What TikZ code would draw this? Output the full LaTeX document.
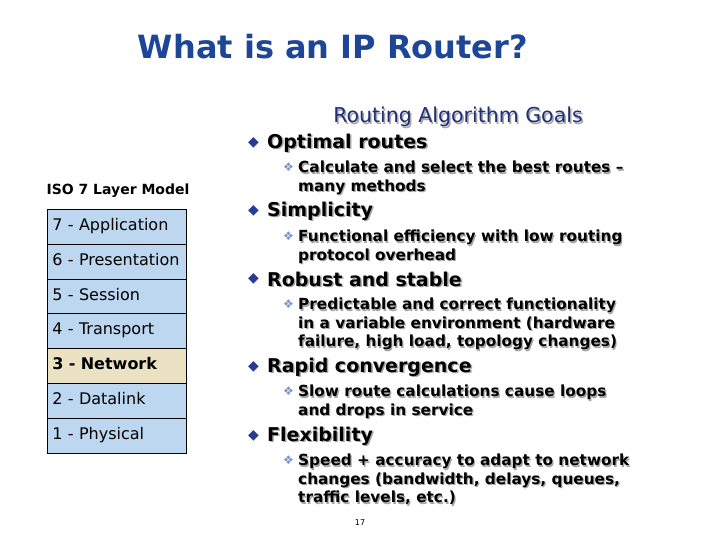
\documentclass[tikz,border=0pt]{standalone}
\usepackage{fontspec}
\setmainfont{DejaVu Sans}
\definecolor{ttl}{RGB}{30,70,150}
\definecolor{bl}{RGB}{40,60,150}
\definecolor{sb}{RGB}{120,150,200}
\definecolor{lay}{RGB}{190,215,240}
\definecolor{layh}{RGB}{235,225,195}
\tikzset{x=1pt,y=-1pt,
 txt/.style={anchor=west,inner sep=0,align=left},
 mainf/.style={font=\fontsize{19}{21}\selectfont\bfseries},
 subf/.style={font=\fontsize{15.3}{18.5}\selectfont\bfseries},
 layer/.style={draw=black,line width=0.8pt,minimum width=139,minimum height=35,anchor=north west,inner xsep=5,text width=129,text height=11.5,text depth=3.5,align=left,font=\fontsize{16}{16}\selectfont},
 shd/.style={text=black!35}}
\newcommand{\mymain}[3]{%
 \node[txt,text=bl,font=\fontsize{14}{14}\selectfont] (#1b) at (248,#2) {◆};
 \node[txt,mainf,shd] (#1s) at (268.5,#2+1.5) {#3};
 \node[txt,mainf] (#1) at (267,#2) {#3};}
\newcommand{\mysub}[3]{%
 \node[txt,text=sb,font=\fontsize{12}{12}\selectfont] (#1b) at (283,#2) {❖};
 \node[txt,subf,shd,anchor=north west] (#1s) at (299.2,#2-6+1.2) {#3};
 \node[txt,subf,anchor=north west] (#1) at (298,#2-6) {#3};}
\begin{document}
\begin{tikzpicture}
\useasboundingbox (0,0) rectangle (720,540);
\fill[white] (0,0) rectangle (720,540);
\node[font=\fontsize{32}{34}\selectfont\bfseries,text=ttl] (title) at (333,47) {What is an IP Router?};
\node[font=\fontsize{20.5}{22}\selectfont,shd] (goalss) at (459.5,118.5) {Routing Algorithm Goals};
\node[font=\fontsize{20.5}{22}\selectfont,text=bl!80!black] (goals) at (458,117) {Routing Algorithm Goals};
\mymain{m1}{143}{Optimal routes}
\mysub{s1}{167}{Calculate and select the best routes –\\many methods}
\mymain{m2}{211}{Simplicity}
\mysub{s2}{236}{Functional efficiency with low routing\\protocol overhead}
\mymain{m3}{279}{Robust and stable}
\mysub{s3}{304}{Predictable and correct functionality\\in a variable environment (hardware\\failure, high load, topology changes)}
\mymain{m4}{367}{Rapid convergence}
\mysub{s4}{391}{Slow route calculations cause loops\\and drops in service}
\mymain{m5}{436}{Flexibility}
\mysub{s5}{460}{Speed + accuracy to adapt to network\\changes (bandwidth, delays, queues,\\traffic levels, etc.)}
\node[font=\fontsize{8}{8}\selectfont] (pg) at (360,523) {17};
\node[font=\fontsize{14}{14}\selectfont\bfseries] (iso) at (118,191) {ISO 7 Layer Model};
\node[layer,fill=lay] (l7) at (47,209) {7 - Application};
\node[layer,fill=lay] (l6) at (47,244) {6 - Presentation};
\node[layer,fill=lay] (l5) at (47,279) {5 - Session};
\node[layer,fill=lay] (l4) at (47,313) {4 - Transport};
\node[layer,fill=layh,font=\fontsize{16}{16}\selectfont\bfseries] (l3) at (47,348) {3 - Network};
\node[layer,fill=lay] (l2) at (47,383) {2 - Datalink};
\node[layer,fill=lay] (l1) at (47,418) {1 - Physical};
\end{tikzpicture}
\end{document}
